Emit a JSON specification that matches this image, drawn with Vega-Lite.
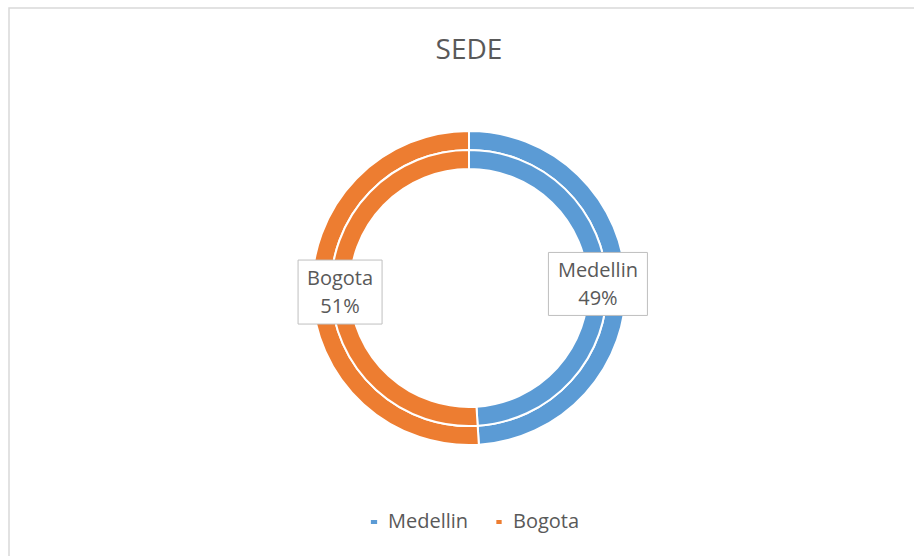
{
  "$schema": "https://vega.github.io/schema/vega-lite/v6.json",
  "width": 920,
  "height": 560,
  "autosize": {"type": "none"},
  "padding": {"left": 9, "top": 8, "right": -15, "bottom": -12},
  "background": "white",
  "title": {
    "text": "SEDE",
    "anchor": "middle",
    "orient": "top",
    "baseline": "alphabetic",
    "offset": -52,
    "dy": 27,
    "font": "Open Sans",
    "fontSize": 28,
    "fontWeight": "normal",
    "color": "#595959"
  },
  "data": {
    "values": [
      {"anillo": "exterior", "sede": "Medellin", "valor": 0.49},
      {"anillo": "exterior", "sede": "Bogota", "valor": 0.51},
      {"anillo": "interior", "sede": "Medellin", "valor": 0.49},
      {"anillo": "interior", "sede": "Bogota", "valor": 0.51}
    ]
  },
  "layer": [
    {
      "transform": [{"filter": "datum.anillo === 'exterior'"}],
      "mark": {"type": "arc", "outerRadius": 157, "innerRadius": 138, "stroke": "white", "strokeWidth": 2},
      "encoding": {
        "theta": {"field": "valor", "type": "quantitative", "stack": true},
        "order": {"field": "sede", "sort": "descending"},
        "color": {
          "field": "sede",
          "type": "nominal",
          "sort": ["Medellin", "Bogota"],
          "scale": {"domain": ["Medellin", "Bogota"], "range": ["#5B9BD5", "#ED7D31"]},
          "legend": {
            "orient": "none",
            "legendX": 355,
            "legendY": 504,
            "direction": "horizontal",
            "title": null,
            "symbolType": "square",
            "symbolSize": 40,
            "symbolStrokeWidth": 0,
            "labelFont": "Open Sans",
            "labelFontSize": 20,
            "labelColor": "#595959",
            "labelOffset": 4,
            "columnPadding": 20,
            "padding": 0
          }
        }
      }
    },
    {
      "transform": [{"filter": "datum.anillo === 'interior'"}],
      "mark": {"type": "arc", "outerRadius": 138, "innerRadius": 119, "stroke": "white", "strokeWidth": 2},
      "encoding": {
        "theta": {"field": "valor", "type": "quantitative", "stack": true},
        "order": {"field": "sede", "sort": "descending"},
        "color": {"field": "sede", "type": "nominal", "sort": ["Medellin", "Bogota"]}
      }
    },
    {
      "transform": [
        {"filter": "datum.anillo === 'exterior'"},
        {"window": [{"op": "sum", "field": "valor", "as": "acum"}], "frame": [null, 0]},
        {"calculate": "(datum.acum - datum.valor / 2) * 2 * PI", "as": "angulo"},
        {"calculate": "129 * sin(datum.angulo)", "as": "lx"},
        {"calculate": "129 * cos(datum.angulo)", "as": "ly"}
      ],
      "encoding": {
        "x": {"field": "lx", "type": "quantitative", "scale": {"domain": [-460, 460], "nice": false, "zero": false}, "axis": null},
        "y": {"field": "ly", "type": "quantitative", "scale": {"domain": [-280, 280], "nice": false, "zero": false}, "axis": null}
      },
      "layer": [
        {
          "mark": {"type": "point", "filled": true, "fill": "white", "stroke": "#bfbfbf", "strokeWidth": 1, "opacity": 1, "size": 10000},
          "encoding": {
            "shape": {
              "field": "sede",
              "type": "nominal",
              "scale": {
                "domain": ["Medellin", "Bogota"],
                "range": ["M-0.99,-0.63H0.99V0.63H-0.99Z", "M-0.84,-0.64H0.84V0.64H-0.84Z"]
              },
              "legend": null
            }
          }
        },
        {
          "mark": {"type": "text", "font": "Open Sans", "fontSize": 20, "fill": "#595959", "baseline": "alphabetic", "align": "center", "dy": -7},
          "encoding": {"text": {"field": "sede", "type": "nominal"}}
        },
        {
          "mark": {"type": "text", "font": "Open Sans", "fontSize": 20, "fill": "#595959", "baseline": "alphabetic", "align": "center", "dy": 20.7},
          "encoding": {"text": {"field": "valor", "type": "quantitative", "format": ".0%"}}
        }
      ]
    }
  ],
  "config": {
    "view": {"stroke": "#d9d9d9", "strokeWidth": 1.5}
  }
}
